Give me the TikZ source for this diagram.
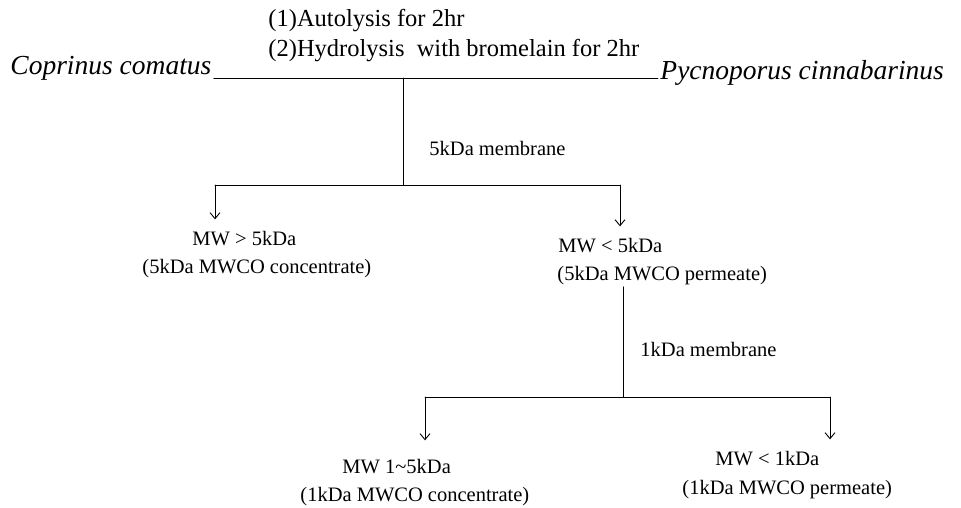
\documentclass[tikz,border=0pt]{standalone}
\usepackage{fontspec}
\setmainfont{Liberation Serif}
\usetikzlibrary{arrows.meta}
\begin{document}
\begin{tikzpicture}[x=1pt, y=-1pt, font=\fontsize{20.5}{24}\selectfont, line width=0.9pt, line join=round, line cap=round, >={Straight Barb[length=6pt,width=10pt]}]
	\useasboundingbox (0,0) rectangle (961,508);
	\tikzset{txt/.style={anchor=base west, inner sep=2pt}, spc/.style={txt, font=\fontsize{27.5}{30}\selectfont\itshape}, top/.style={txt, font=\fontsize{24.5}{26}\selectfont}, down/.style={->, shorten >=9pt}}
	% starting material and treatment
	\node[top] (step1) at (266,27) {(1)Autolysis for 2hr};
	\node[top] (step2) at (266,57) {(2)Hydrolysis\ \ with bromelain for 2hr};
	\node[spc] (cc) at (8,75) {Coprinus comatus};
	\node[spc] (pc) at (658,80) {Pycnoporus cinnabarinus};
	\coordinate (split) at (403,78);
	\coordinate (fork1) at (403,185);
	\draw (cc.base east |- split) -- (pc.base west |- split);
	\draw (split) -- (fork1);
	\node[txt] (mem5) at (427,155) {5kDa membrane};
	% first cut
	\coordinate (f1l) at (215,185);
	\coordinate (f1r) at (620,185);
	\node[txt] (hi5) at (190,245) {MW > 5kDa};
	\node[txt] (hi5note) at (140,273) {(5kDa MWCO concentrate)};
	\node[txt] (lo5) at (556,252) {MW < 5kDa};
	\node[txt] (lo5note) at (555,280) {(5kDa MWCO permeate)};
	\draw (f1l) -- (f1r);
	\draw[down] (f1l) -- (f1l |- hi5.north);
	\draw[down] (f1r) -- (f1r |- lo5.north);
	% second cut
	\coordinate (fork2) at (623,397);
	\coordinate (f2l) at (425,397);
	\coordinate (f2r) at (830,397);
	\draw (fork2 |- lo5note.south) -- (fork2);
	\node[txt] (mem1) at (638,356) {1kDa membrane};
	\node[txt] (mid) at (340,473) {MW 1\textasciitilde5kDa};
	\node[txt] (midnote) at (298,501) {(1kDa MWCO concentrate)};
	\node[txt] (lo1) at (713,465) {MW < 1kDa};
	\node[txt] (lo1note) at (680,494) {(1kDa MWCO permeate)};
	\draw (f2l) -- (f2r);
	\draw[->, shorten >=16pt] (f2l) -- (f2l |- mid.north);
	\draw[down] (f2r) -- (f2r |- lo1.north);
\end{tikzpicture}
\end{document}
